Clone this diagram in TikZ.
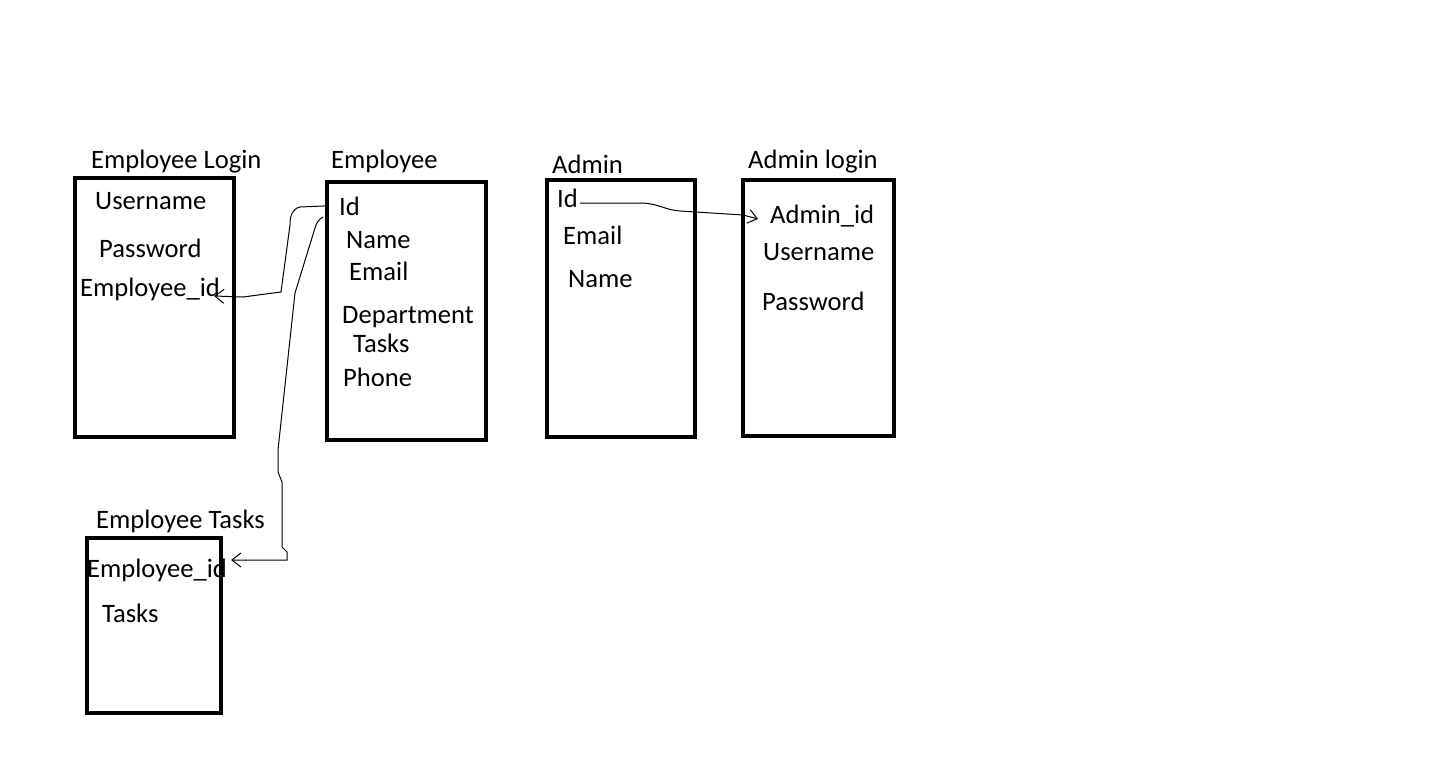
\documentclass[tikz,border=0pt]{standalone}
\usepackage{fontspec}
\setmainfont{Carlito}
\usetikzlibrary{arrows.meta,calc,positioning}

\begin{document}
\begin{tikzpicture}[
      x=1pt,y=-1pt,
      table/.style={rectangle,draw,line width=4pt,anchor=north west,inner sep=0pt,outer sep=0pt},
      label/.style={anchor=base west,inner sep=0pt,font=\fontsize{26.6}{30}\selectfont},
      link/.style={->,line width=1pt},
      >={Straight Barb[length=9pt,width=14pt]}
    ]
    \useasboundingbox (0,0) rectangle (1440,765);

    % tables
    \node[table,minimum width=159pt,minimum height=259pt] (EL) at (75,178) {};
    \node[table,minimum width=159pt,minimum height=258pt] (EMP) at (327,182) {};
    \node[table,minimum width=148pt,minimum height=257pt] (ADM) at (547,180) {};
    \node[table,minimum width=151pt,minimum height=256pt] (AL) at (743,180) {};
    \node[table,minimum width=134pt,minimum height=175pt] (ET) at (87,538) {};

    % titles
    \node[label] (ELtitle) at (91,168) {Employee Login};
    \node[label] (EMPtitle) at (331,168) {Employee};
    \node[label] (ADMtitle) at (552,173) {Admin};
    \node[label] (ALtitle) at (748,168) {Admin login};
    \node[label] (ETtitle) at (96,528) {Employee Tasks};

    % fields
    \node[label] (ELuser) at (95,209) {Username};
    \node[label] (ELpass) at (99,257) {Password};
    \node[label] (ELeid) at (80,296) {Employee\_id};

    \node[label] (EMPid) at (339,215) {Id};
    \node[label] (EMPname) at (346,248) {Name};
    \node[label] (EMPmail) at (349,280) {Email};
    \node[label] (EMPdept) at (342,323) {Department};
    \node[label] (EMPtasks) at (353,352) {Tasks};
    \node[label] (EMPphone) at (343,386) {Phone};

    \node[label] (ADMid) at (557,207) {Id};
    \node[label] (ADMmail) at (563,244) {Email};
    \node[label] (ADMname) at (568,287) {Name};

    \node[label] (ALaid) at (770,223) {Admin\_id};
    \node[label] (ALuser) at (763,260) {Username};
    \node[label] (ALpass) at (762,310) {Password};

    \node[label] (ETeid) at (87,577) {Employee\_id};
    \node[label] (ETtasks) at (102,622) {Tasks};

    % links
    \draw[link] (EMP.west |- EMPid) -- (300,207)
    .. controls (292,209) and (290,216) .. (290,225)
    -- (281,292) -- (243,297) -- ([xshift=-6pt]ELeid.base east);
    \draw[link] ($(EMP.west |- EMPid)+(-4,11)$)
    .. controls (318,220) and (316,224) .. (315,228)
    -- (295,293) -- (278,450) -- (278,472) -- (282,482) -- (282,547)
    -- (287,552) -- (287,560) -- ($(ETeid.base east)+(4,-17)$);
    \draw[link] ($(ADMid.base east)+(2,-4)$) -- (642,203)
    .. controls (660,204) and (665,210) .. (680,211)
    -- (743,215) -- ($(ALaid.base west)+(-12,-4)$);
  \end{tikzpicture}
\end{document}
